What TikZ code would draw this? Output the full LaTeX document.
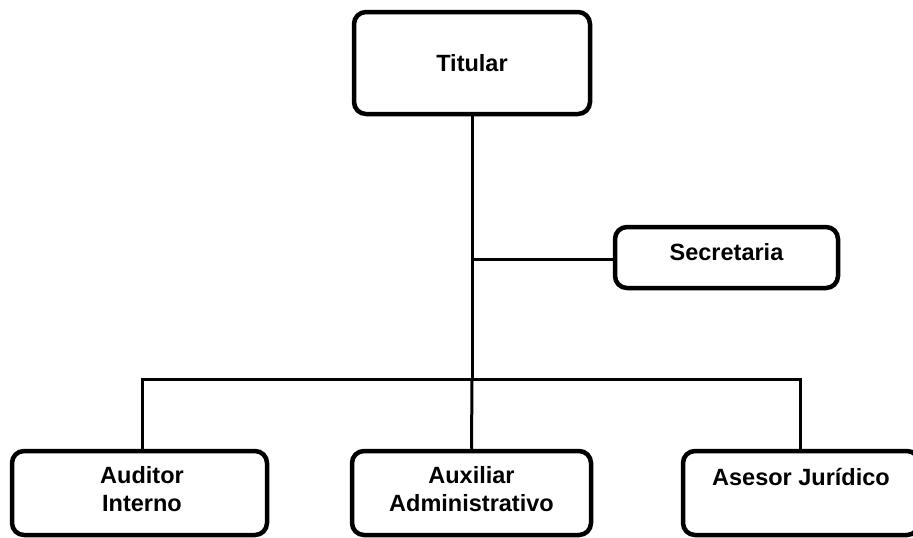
\documentclass[tikz,border=0pt]{standalone}
\usepackage{fontspec}
\setmainfont{Liberation Sans}
\begin{document}
\begin{tikzpicture}[x=1pt,y=-1pt,
  box/.style={draw=black, line width=4.5pt, rounded corners=12pt, inner sep=0pt, fill=white},
  lbl/.style={font=\fontsize{23.5}{28}\selectfont\bfseries, align=center, inner sep=0pt},
  conn/.style={draw=black, line width=3pt}]
\clip (0,0) rectangle (913,538);
\fill[white] (0,0) rectangle (913,538);
% boxes
\node[box, minimum width=236pt, minimum height=102pt] (tit) at (472,63) {};
\node[box, minimum width=223pt, minimum height=61pt] (sec) at (726.5,257.5) {};
\node[box, minimum width=255pt, minimum height=84pt] (aud) at (139.5,493) {};
\node[box, minimum width=239pt, minimum height=84pt] (aux) at (471.5,493) {};
\node[box, minimum width=236pt, minimum height=84pt] (ase) at (801,493) {};
% labels
\node[lbl] (tTit) at (472,63) {Titular};
\node[lbl] (tSec) at (726.5,252) {Secretaria};
\node[lbl] (tAud) at (142,489) {Auditor\\Interno};
\node[lbl] (tAux) at (471.5,489) {Auxiliar\\Administrativo};
\node[lbl] (tAse) at (801,477) {Asesor Jurídico};
% connectors
\coordinate (bar) at (472,379);
\coordinate (secj) at (472,259);
\coordinate (barL) at (142,379);
\coordinate (barR) at (800,379);
\draw[conn] (tit.south) -- (bar);
\draw[conn] (secj) -- (sec.west |- secj);
\draw[conn] (barL |- aud.north) -- (barL) -- (barR) -- (barR |- ase.north);
\draw[conn] (bar) -- (aux.north);
\end{tikzpicture}
\end{document}
